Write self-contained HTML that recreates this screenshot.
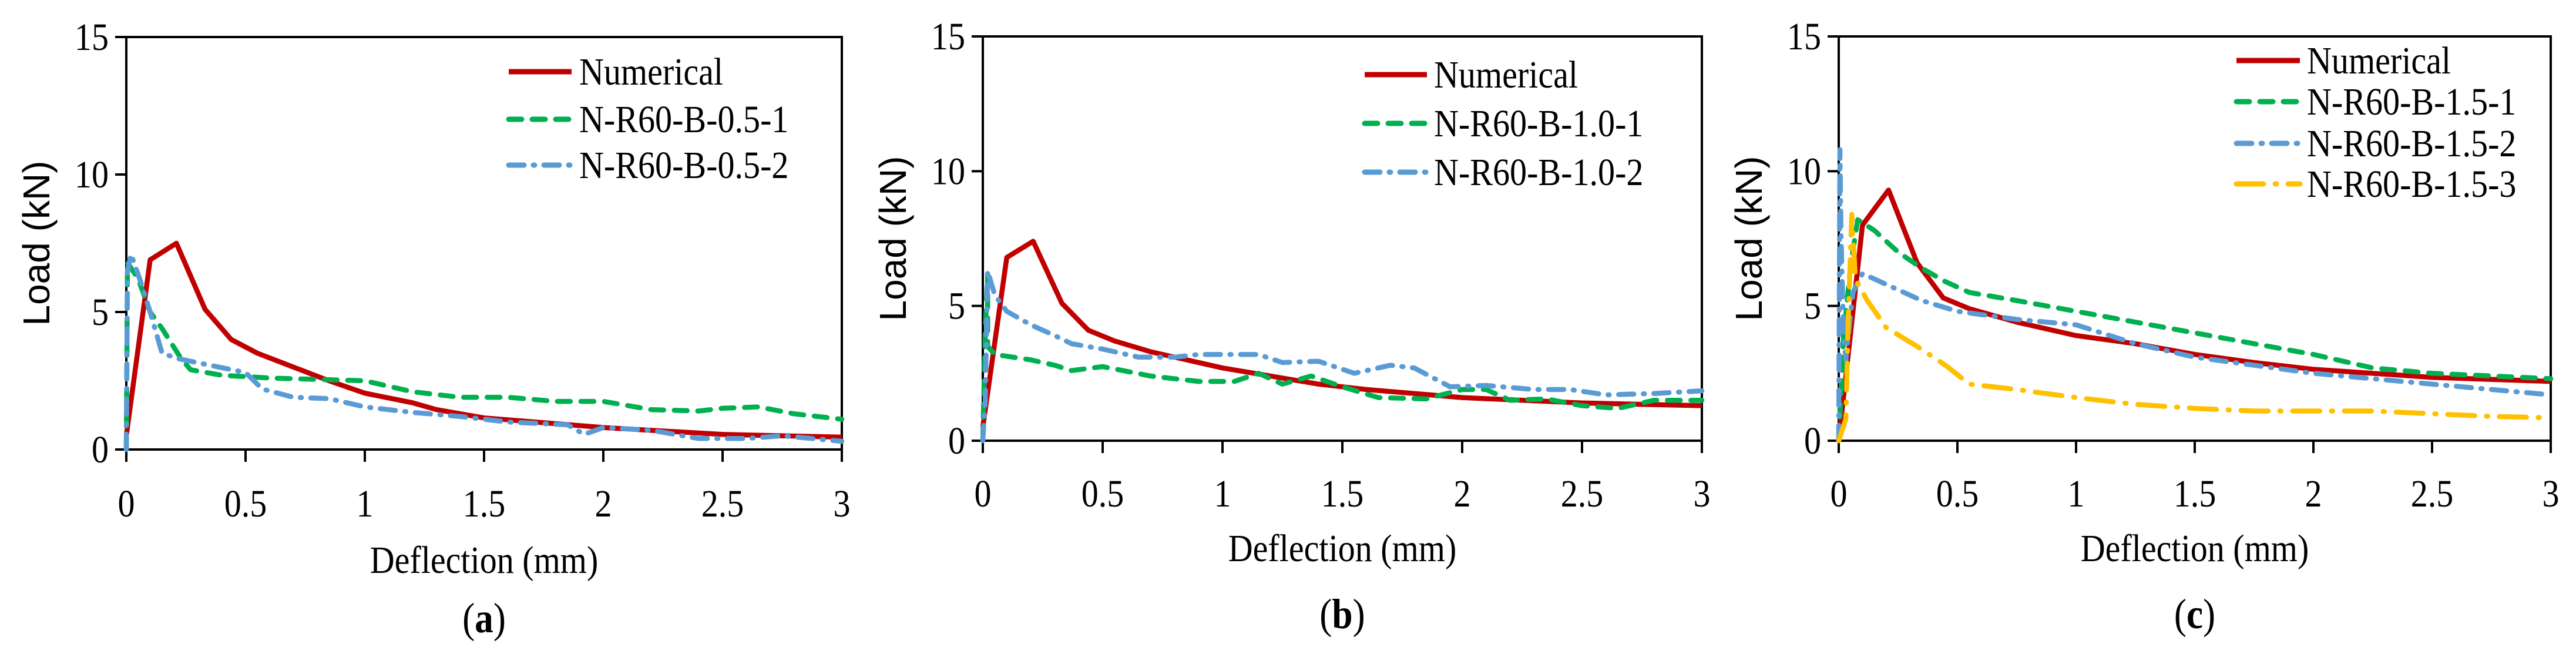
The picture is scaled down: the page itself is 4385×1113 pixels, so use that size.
<!DOCTYPE html>
<html><head><meta charset="utf-8"><style>
html,body{margin:0;padding:0;background:#fff;}
svg{display:block;}
text{font-family:"Liberation Serif",serif;fill:#000;}
</style></head><body>
<svg id="fig" width="4385" height="1113" viewBox="0 0 4385 1113" xmlns="http://www.w3.org/2000/svg"></svg>
<script>
// ---- data ----
const xTicks = [0, 0.5, 1, 1.5, 2, 2.5, 3];
const xTickLabels = ["0", "0.5", "1", "1.5", "2", "2.5", "3"];
const yTicks = [0, 5, 10, 15];
const yTickLabels = ["0", "5", "10", "15"];

const aNumX = [0,0.1,0.21,0.33,0.44,0.55,0.7,0.85,1,1.2,1.3,1.5,2,2.5,3];
const aNumY = [0.5,6.9,7.5,5.1,4.0,3.5,3.0,2.5,2.05,1.7,1.45,1.15,0.8,0.55,0.45];
const aG1X = [0,0.005,0.05,0.1,0.15,0.23,0.27,0.4,0.6,0.8,1,1.2,1.4,1.6,1.8,2,2.2,2.4,2.5,2.65,2.8,3];
const aG1Y = [0,6.8,6.2,5.0,4.4,3.3,2.9,2.7,2.6,2.55,2.5,2.1,1.9,1.9,1.75,1.75,1.45,1.4,1.5,1.55,1.3,1.1];
const aB2X = [0,0.005,0.02,0.06,0.1,0.15,0.22,0.33,0.5,0.57,0.7,0.85,1,1.2,1.4,1.6,1.85,1.92,2,2.2,2.4,2.6,2.75,3];
const aB2Y = [0,6.5,7.1,6.1,5.0,3.5,3.3,3.1,2.8,2.2,1.9,1.85,1.55,1.35,1.2,1.0,0.9,0.55,0.8,0.7,0.4,0.4,0.5,0.3];

const bNumX = [0,0.1,0.21,0.33,0.44,0.55,0.7,0.85,1,1.2,1.4,1.6,1.8,2,2.5,3];
const bNumY = [0.5,6.8,7.4,5.1,4.1,3.7,3.3,3.0,2.7,2.4,2.1,1.9,1.75,1.6,1.4,1.3];
const bG1X = [0,0.01,0.02,0.02,0.05,0.2,0.3,0.37,0.5,0.7,0.9,1.05,1.15,1.25,1.37,1.5,1.65,1.85,2.0,2.1,2.2,2.35,2.5,2.65,2.8,3];
const bG1Y = [0,4,6.2,3.5,3.2,3.0,2.8,2.6,2.75,2.4,2.2,2.2,2.5,2.1,2.4,2.0,1.6,1.55,1.9,1.9,1.5,1.55,1.3,1.2,1.5,1.5];
const bB2X = [0,0.01,0.02,0.05,0.1,0.2,0.3,0.37,0.5,0.65,0.8,0.9,1.05,1.15,1.25,1.4,1.55,1.7,1.8,1.95,2.1,2.3,2.45,2.6,2.8,3];
const bB2Y = [0,1.5,6.3,5.4,4.8,4.3,3.9,3.6,3.4,3.1,3.1,3.2,3.2,3.2,2.9,2.95,2.5,2.8,2.7,2.0,2.05,1.9,1.9,1.7,1.75,1.85];

const cNumX = [0,0.1,0.21,0.33,0.44,0.55,0.75,1,1.25,1.5,1.75,2,2.5,3];
const cNumY = [0,8.0,9.3,6.6,5.3,4.9,4.4,3.9,3.6,3.2,2.9,2.65,2.35,2.2];
const cG1X = [0,0.02,0.05,0.08,0.15,0.25,0.35,0.45,0.55,0.75,1,1.25,1.5,1.75,2,2.25,2.5,3];
const cG1Y = [0,3.8,6.5,8.2,7.8,7.0,6.4,5.9,5.5,5.2,4.8,4.4,4.0,3.6,3.2,2.7,2.5,2.3];
const cB2X = [0,0.005,0.01,0.02,0.03,0.06,0.1,0.2,0.35,0.5,0.75,1,1.25,1.5,1.75,2,2.5,3];
const cB2Y = [0,10.8,7.5,4,3,5.5,6.2,5.8,5.2,4.8,4.5,4.3,3.6,3.1,2.8,2.5,2.1,1.7];
const cY3X = [0,0.03,0.04,0.055,0.07,0.12,0.2,0.33,0.45,0.55,0.75,1,1.25,1.5,1.75,2,2.25,2.5,2.75,3];
const cY3Y = [0,0.8,4.5,8.4,6.0,5.2,4.2,3.5,2.8,2.1,1.9,1.6,1.35,1.2,1.1,1.1,1.1,1.0,0.9,0.85];

// ---- styles ----
const RED="#C00000", GREEN="#00B050", BLUE="#5B9BD5", YEL="#FFC000";
const DASH="22 18", DASHDOT="26 16 2 16", LONGDASHDOT="46 20 2 20";
const FS=66, SXF=0.88;

const panels = [
 {id:"a", x0:215, x1:1433, y0:765, y1:63, tickY:857, titleY:953, capY:1052, ylabX:62,
  legX1:866, legX2:973, legTx:986, legY:[122,203,281],
  series:[["numerical",aNumX,aNumY,RED,"","Numerical"],["n-r60-b-0.5-1",aG1X,aG1Y,GREEN,DASH,"N-R60-B-0.5-1"],["n-r60-b-0.5-2",aB2X,aB2Y,BLUE,DASHDOT,"N-R60-B-0.5-2"]]},
 {id:"b", x0:1673, x1:2897, y0:750, y1:62, tickY:840, titleY:933, capY:1045, ylabX:1520,
  legX1:2323, legX2:2429, legTx:2441, legY:[127,210,293],
  series:[["numerical",bNumX,bNumY,RED,"","Numerical"],["n-r60-b-1.0-1",bG1X,bG1Y,GREEN,DASH,"N-R60-B-1.0-1"],["n-r60-b-1.0-2",bB2X,bB2Y,BLUE,DASHDOT,"N-R60-B-1.0-2"]]},
 {id:"c", x0:3130, x1:4342, y0:750, y1:62, tickY:840, titleY:933, capY:1045, ylabX:2977,
  legX1:3807, legX2:3915, legTx:3927, legY:[103,173,244,313],
  series:[["numerical",cNumX,cNumY,RED,"","Numerical"],["n-r60-b-1.5-1",cG1X,cG1Y,GREEN,DASH,"N-R60-B-1.5-1"],["n-r60-b-1.5-2",cB2X,cB2Y,BLUE,DASHDOT,"N-R60-B-1.5-2"],["n-r60-b-1.5-3",cY3X,cY3Y,YEL,LONGDASHDOT,"N-R60-B-1.5-3"]]}
];

const NS="http://www.w3.org/2000/svg";
const svg=document.getElementById("fig");
function mk(tag, attrs, parent){const e=document.createElementNS(NS,tag);for(const k in attrs)e.setAttribute(k,attrs[k]);(parent||svg).appendChild(e);return e;}
function txt(x,y,anchor,size,parent){return mk("text",{x:0,y:0,"font-size":size||FS,"text-anchor":anchor,transform:`translate(${x} ${y}) scale(${SXF} 1)`},parent);}

panels.forEach(p=>{
  const g=mk("g",{});
  
  
  const sx=v=>p.x0+(v-0)/(3-0)*(p.x1-p.x0);
  const sy=v=>p.y0+(v-0)/(15-0)*(p.y1-p.y0);
  const fr=mk("rect",{x:p.x0,y:p.y1,width:p.x1-p.x0,height:p.y0-p.y1,fill:"none",stroke:"#000","stroke-width":4},g);
  
  
  yTicks.forEach((v,i)=>{
    const t=mk("line",{x1:p.x0-19,x2:p.x0,y1:sy(v),y2:sy(v),stroke:"#000","stroke-width":4},g);
    
    
    const l=txt(p.x0-30,sy(v)+22,"end",FS,g);
    l.textContent=yTickLabels[i];
    
    
  });
  xTicks.forEach((v,i)=>{
    const t=mk("line",{x1:sx(v),x2:sx(v),y1:p.y0,y2:p.y0+21,stroke:"#000","stroke-width":4},g);
    
    
    const l=txt(sx(v),p.tickY+22,"middle",FS,g);
    l.textContent=xTickLabels[i];
    
    
  });
  const xt=txt((p.x0+p.x1)/2,p.titleY+22,"middle",FS,g);
  xt.textContent="Deflection (mm)";
  
  
  const cy=(p.y0+p.y1)/2;
  const yt=mk("text",{x:p.ylabX+22,y:cy,"font-size":64,"text-anchor":"middle",transform:`rotate(-90 ${p.ylabX+22} ${cy})`,style:'font-family:"Liberation Sans",sans-serif'},g);
  yt.textContent="Load (kN)";
  
  
  const cap=txt((p.x0+p.x1)/2,p.capY+24,"middle",72,g);
  cap.innerHTML='(<tspan font-weight="bold">'+p.id+'</tspan>)';
  
  
  p.series.forEach((s,i)=>{
    const [name,xs,ys,col,dash,lab]=s;
    const pts=xs.map((x,j)=>sx(x).toFixed(1)+","+sy(ys[j]).toFixed(1)).join(" ");
    const pl=mk("polyline",{points:pts,fill:"none",stroke:col,"stroke-width":8.5,"stroke-linejoin":"round","stroke-linecap":dash?"round":"butt"},g);
    if(dash) pl.setAttribute("stroke-dasharray",dash);
    
    
    const ly=p.legY[i];
    const ll=mk("line",{x1:p.legX1,x2:p.legX2,y1:ly,y2:ly,stroke:col,"stroke-width":9,"stroke-linecap":dash?"round":"butt"},g);
    if(dash) ll.setAttribute("stroke-dasharray",dash);
    
    
    const lt=txt(p.legTx,ly+22,"start",FS,g);
    lt.textContent=lab;
    
    
  });
});
</script>
</body></html>
